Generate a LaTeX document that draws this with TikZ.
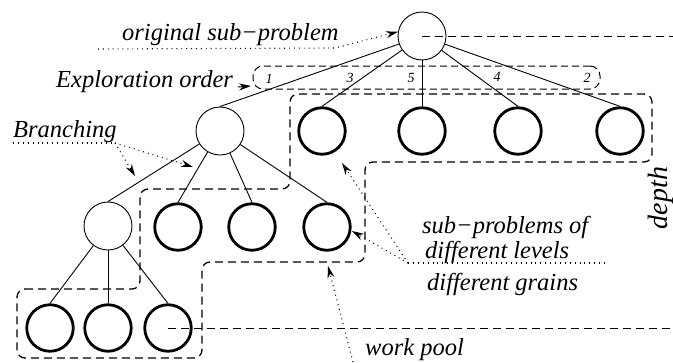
\documentclass[tikz,border=0pt]{standalone}
\usepackage{fontspec}
\setmainfont{Liberation Serif}
\usetikzlibrary{arrows.meta}
\begin{document}
\begin{tikzpicture}[x=1pt,y=-1pt,
  thinnode/.style={circle,draw,line width=0.9pt,minimum size=48pt,inner sep=0pt},
  leaf/.style={circle,draw,line width=2.8pt,minimum size=46.5pt,inner sep=0pt},
  branch/.style={line width=0.9pt},
  pool/.style={line width=1.3pt,dash pattern=on 8pt off 5pt,rounded corners=8pt},
  depthline/.style={line width=1pt,dash pattern=on 8pt off 5pt},
  dots/.style={line width=1.1pt,dash pattern=on 0.9pt off 4pt},
  tip/.style={-{Stealth[length=12pt,width=7pt]}},
  lbl/.style={font=\fontsize{24.5}{29}\selectfont\itshape,inner sep=0pt,anchor=base west},
  num/.style={font=\fontsize{14}{16}\selectfont\itshape,inner sep=0pt}]
\useasboundingbox (0,0) rectangle (673,362);

% tree nodes
\node[thinnode] (root) at (422,36) {};
\node[thinnode] (a) at (220,131) {};
\node[leaf] (b1) at (322,131) {};
\node[leaf] (b2) at (422,131) {};
\node[leaf] (b3) at (518,131) {};
\node[leaf] (b4) at (620,131) {};
\node[thinnode] (c) at (108,226) {};
\node[leaf] (d1) at (178,227) {};
\node[leaf] (d2) at (252,227) {};
\node[leaf] (d3) at (327,227) {};
\node[leaf] (e1) at (50,328) {};
\node[leaf] (e2) at (108,328) {};
\node[leaf] (e3) at (168,328) {};

% branches
\draw[branch] (root) -- (a.north);
\draw[branch] (root) -- (b1.north);
\draw[branch] (root) -- (b2.north);
\draw[branch] (root) -- (b3.north);
\draw[branch] (root) -- (b4.north);
\foreach \t in {c,d1,d2,d3} \draw[branch] (a) -- (\t.north);
\foreach \t in {e1,e2,e3} \draw[branch] (c) -- (\t.north);

% exploration order
\node[draw,line width=1pt,dash pattern=on 7pt off 4pt,rounded corners=10pt,
      minimum width=347pt,minimum height=23pt,inner sep=0pt] (order) at (426.5,77.5) {};
\node[num] (n1) at (269,79) {1};
\node[num] (n3) at (350,78) {3};
\node[num] (n5) at (411,78) {5};
\node[num] (n4) at (497,77) {4};
\node[num] (n2) at (587,78) {2};

% work pool outline
\draw[pool] (17,289) -- (140,289) -- (140,189) -- (290,189) -- (290,94)
  -- (652,94) -- (652,162) -- (365,162) -- (365,262) -- (202,262)
  -- (202,358) -- (17,358) -- cycle;

% depth range
\coordinate (dtop) at (673,36);
\coordinate (dbot) at (673,328);
\draw[depthline] (root.center) -- (dtop);
\draw[depthline] (e3.center) -- (dbot);
\node[font=\fontsize{28}{32}\selectfont\itshape,rotate=90,inner sep=0pt] (depth) at (661,198) {depth};

% labels
\node[lbl] (osp) at (122,40) {original sub−problem};
\node[lbl] (expl) at (56,87) {Exploration order};
\node[lbl] (brn) at (13,137) {Branching};
\node[lbl] (spl) at (422,233) {sub−problems of};
\node[lbl] (dl) at (425,258) {different levels};
\node[lbl] (dg) at (427,290) {different grains};
\node[lbl] (wp) at (365,355) {work pool};

% pointers
\coordinate (ospA) at (98,49);
\coordinate (ospB) at (335,48);
\draw[dots,tip] (ospA) -- (ospB) -- (root.170);

\coordinate (explA) at (238,87);
\coordinate (explB) at (251,86);
\draw[line width=1pt,tip] (explA) -- (explB);

\coordinate (brA) at (13,143);
\coordinate (brB) at (115,143);
\coordinate (brT1) at (135,176);
\coordinate (brT2) at (193,167);
\draw[dots] (brA) -- (brB);
\draw[dots,tip] (brB) -- (brT1);
\draw[dots,tip] (brB) -- (brT2);

\coordinate (spA) at (408,263);
\coordinate (spB) at (607,263);
\coordinate (spT1) at (342,163);
\coordinate (spT2) at (352,231);
\draw[dots] (spA) -- (spB);
\draw[dots,tip] (spA) -- (spT1);
\draw[dots,tip] (spA) -- (spT2);

\coordinate (wpA) at (353,362);
\coordinate (wpT) at (328,266);
\draw[dots,tip] (wpA) -- (wpT);
\end{tikzpicture}
\end{document}
